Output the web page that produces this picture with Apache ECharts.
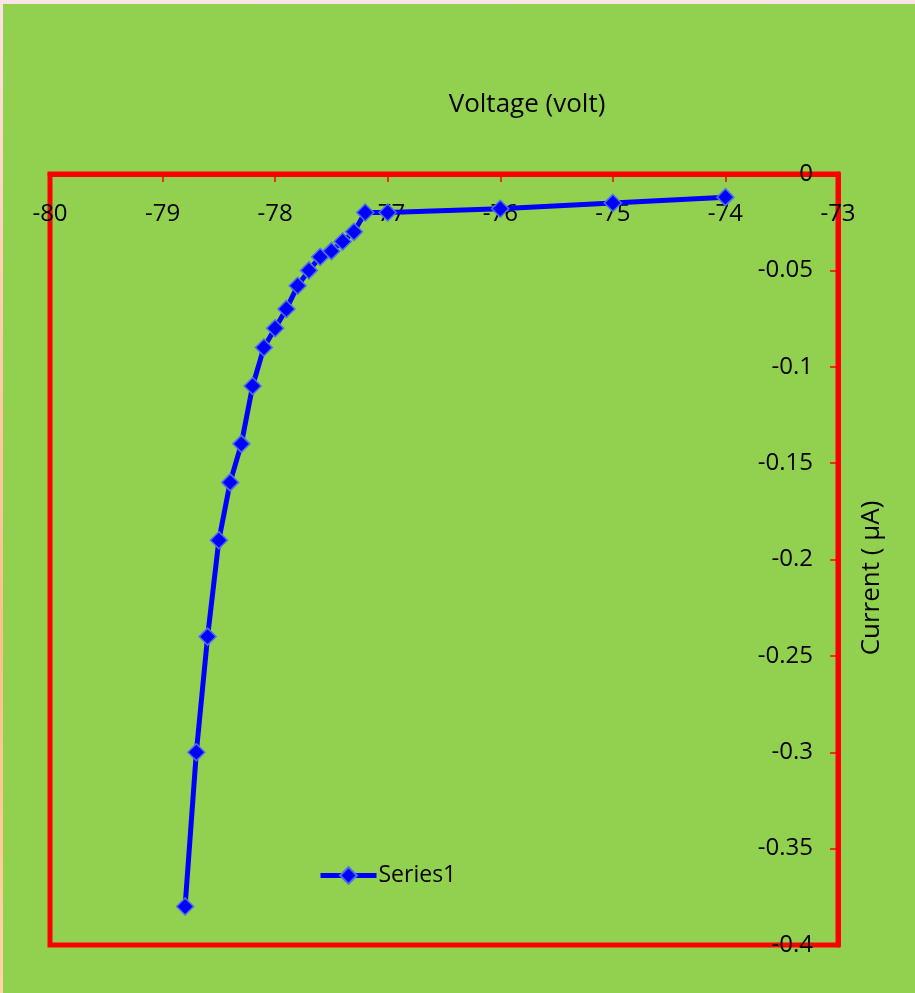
<!DOCTYPE html>
<html>
<head>
<meta charset="utf-8">
<script src="https://cdn.jsdelivr.net/npm/echarts@6/dist/echarts.min.js"></script>
<style>
  html, body { margin: 0; padding: 0; width: 915px; height: 993px; overflow: hidden; }
  body { background: linear-gradient(to bottom, #fde3e5 0%, #fcd0b0 30%, #fbc088 65%, #fdd6a4 100%); position: relative; }
  #chart { position: absolute; left: 3px; top: 4px; width: 912px; height: 989px; background: #92d050; }
</style>
</head>
<body>
<div id="chart"></div>
<script>
const voltage = [-78.8, -78.7, -78.6, -78.5, -78.4, -78.3, -78.2, -78.1, -78.0, -77.9, -77.8, -77.7, -77.6, -77.5, -77.4, -77.3, -77.2, -77, -76, -75, -74];
const current = [-0.38, -0.30, -0.24, -0.19, -0.16, -0.14, -0.11, -0.09, -0.08, -0.07, -0.058, -0.05, -0.043, -0.04, -0.035, -0.03, -0.02, -0.02, -0.018, -0.015, -0.012];
const seriesName = 'Series1';
const xTitle = 'Voltage (volt)';
const yTitle = 'Current ( µA)';

const FONT = '"Open Sans", sans-serif';
const chart = echarts.init(document.getElementById('chart'), null, { renderer: 'canvas' });
const data = voltage.map((v, i) => [v, current[i]]);

chart.setOption({
  backgroundColor: '#92d050',
  animation: false,
  textStyle: { fontFamily: FONT },
  grid: {
    left: 47, top: 170, right: 77, bottom: 48,
    show: true, borderColor: '#ff0000', borderWidth: 5, backgroundColor: 'transparent'
  },
  legend: {
    data: [seriesName],
    left: 310, top: 855,
    itemWidth: 56, itemHeight: 21, itemGap: 4,
    lineStyle: { width: 5 },
    textStyle: { fontSize: 23, color: '#000', fontFamily: FONT, padding: [0, 0, 0, -3] }
  },
  graphic: [
    { type: 'text', x: 524, y: 101, style: { text: xTitle, font: '26px "Open Sans", sans-serif', fill: '#000', align: 'center', verticalAlign: 'middle' } },
    { type: 'text', x: 869, y: 574, rotation: Math.PI / 2, style: { text: yTitle, font: '26px "Open Sans", sans-serif', fill: '#000', align: 'center', verticalAlign: 'middle' } }
  ],
  xAxis: {
    type: 'value', position: 'top', min: -80, max: -73, interval: 1,
    axisLine: { show: true, onZero: false, lineStyle: { color: '#ff0000', width: 5 } },
    axisTick: { show: true, inside: true, length: 8, lineStyle: { color: '#ff0000', width: 1.5 } },
    axisLabel: { inside: true, margin: 28, fontSize: 24, color: '#000', fontFamily: FONT, showMinLabel: true, showMaxLabel: true },
    splitLine: { show: false }
  },
  yAxis: {
    type: 'value', position: 'right', min: -0.4, max: 0, interval: 0.05,
    axisLine: { show: true, onZero: false, lineStyle: { color: '#ff0000', width: 5 } },
    axisTick: { show: true, inside: true, length: 8, lineStyle: { color: '#ff0000', width: 1.5 } },
    axisLabel: { inside: true, margin: 25, fontSize: 24, color: '#000', fontFamily: FONT, showMinLabel: true, showMaxLabel: true,
      formatter: v => String(+v.toFixed(2)) },
    splitLine: { show: false }
  },
  series: [{
    name: seriesName, type: 'line', data: data,
    symbol: 'diamond', symbolSize: 17,
    lineStyle: { color: '#0000ff', width: 5 },
    itemStyle: { color: '#0000ff', borderColor: '#4a74e8', borderWidth: 1.5 },
    z: 3
  }]
});
</script>
</body>
</html>
